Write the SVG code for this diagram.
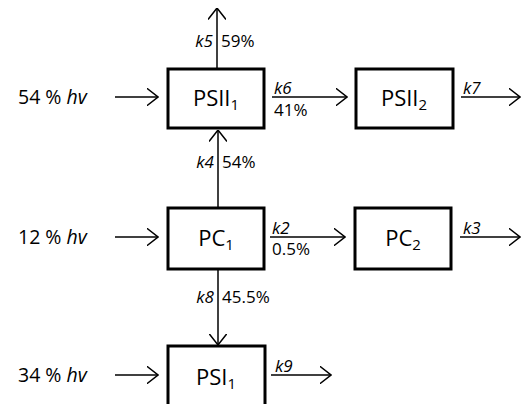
<svg xmlns="http://www.w3.org/2000/svg" width="527" height="404" viewBox="0 0 527 404">
<style>
.box{fill:#fff;stroke:#000;stroke-width:3}
.ln{fill:none;stroke:#000;stroke-width:1.5;marker-end:url(#ah)}
text{font-family:"Open Sans","Noto Sans","Liberation Sans",sans-serif;fill:#000}
.nl{font-size:22px;text-anchor:middle}
.sub{font-size:15px}
.hv{font-size:19.5px}
.k{font-size:17px}
.i{font-style:italic}
.e{text-anchor:end}
</style>
<defs>
<marker id="ah" viewBox="0 0 12 18" refX="11.5" refY="9" markerWidth="12" markerHeight="18" markerUnits="userSpaceOnUse" orient="auto">
<path d="M0,0 L11.5,9 L0,18" fill="none" stroke="#000" stroke-width="1.5"/>
</marker>
</defs>
<g id="connectors">
<line class="ln" x1="115" y1="97" x2="158" y2="97"/>
<line class="ln" x1="115" y1="237" x2="158" y2="237"/>
<line class="ln" x1="115" y1="375" x2="158" y2="375"/>
<line class="ln" x1="217" y1="68" x2="217" y2="8"/>
<line class="ln" x1="218" y1="207" x2="218" y2="130"/>
<line class="ln" x1="218" y1="270" x2="218" y2="345"/>
<line class="ln" x1="272" y1="97" x2="347" y2="97"/>
<line class="ln" x1="461" y1="97" x2="520" y2="97"/>
<line class="ln" x1="270" y1="237" x2="345" y2="237"/>
<line class="ln" x1="460" y1="237" x2="520" y2="237"/>
<line class="ln" x1="271" y1="375" x2="331" y2="375"/>
</g>
<g id="labels">
<text class="hv" x="18" y="104">54 % <tspan class="i">hv</tspan></text>
<text class="hv" x="18" y="244">12 % <tspan class="i">hv</tspan></text>
<text class="hv" x="18" y="382">34 % <tspan class="i">hv</tspan></text>
<text class="k i e" x="213" y="47">k5</text>
<text class="k" x="221" y="47">59%</text>
<text class="k i e" x="214" y="168">k4</text>
<text class="k" x="222" y="168">54%</text>
<text class="k i e" x="214" y="303">k8</text>
<text class="k" x="222" y="303">45.5%</text>
<text class="k i" x="274" y="94">k6</text>
<text class="k" x="274" y="116">41%</text>
<text class="k i" x="463" y="94">k7</text>
<text class="k i" x="272" y="234">k2</text>
<text class="k" x="272" y="255">0.5%</text>
<text class="k i" x="463" y="234">k3</text>
<text class="k i" x="275" y="372">k9</text>
</g>
<g id="PSII1">
<rect class="box" x="168" y="69" width="96" height="59"/>
<text class="nl" x="216" y="106">PSII<tspan class="sub" dy="4">1</tspan></text>
</g>
<g id="PSII2">
<rect class="box" x="356" y="69" width="97" height="59"/>
<text class="nl" x="404" y="106">PSII<tspan class="sub" dy="4">2</tspan></text>
</g>
<g id="PC1">
<rect class="box" x="168" y="208" width="96" height="61"/>
<text class="nl" x="216" y="246">PC<tspan class="sub" dy="4">1</tspan></text>
</g>
<g id="PC2">
<rect class="box" x="355" y="208" width="96" height="61"/>
<text class="nl" x="403" y="246">PC<tspan class="sub" dy="4">2</tspan></text>
</g>
<g id="PSI1">
<rect class="box" x="168" y="346" width="97" height="70"/>
<text class="nl" x="216" y="385">PSI<tspan class="sub" dy="4">1</tspan></text>
</g>
</svg>
